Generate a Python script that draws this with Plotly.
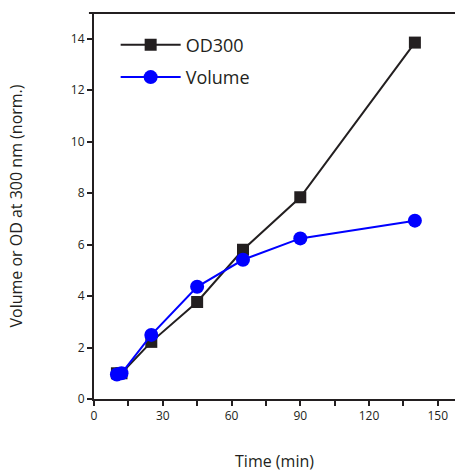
import plotly.graph_objects as go

time_od = [10, 12, 25, 45, 65, 90, 140]
od300 = [1.0, 1.0, 2.22, 3.77, 5.8, 7.84, 13.85]
time_vol = [10, 12, 25, 45, 65, 90, 140]
volume = [0.95, 1.0, 2.49, 4.36, 5.41, 6.24, 6.93]

x_ticks = [0, 30, 60, 90, 120, 150]
y_ticks = [0, 2, 4, 6, 8, 10, 12, 14]

axis_color = "#231f20"
font_family = "Open Sans, Noto Sans, sans-serif"

fig = go.Figure()
fig.add_trace(go.Scatter(
    x=time_od, y=od300, mode="lines+markers", name="OD300", legendgroup="od",
    line=dict(color="#231f20", width=2),
    marker=dict(symbol="square", size=12, color="#231f20"),
))
fig.add_trace(go.Scatter(
    x=time_vol, y=volume, mode="lines+markers", name="Volume", legendgroup="vol",
    line=dict(color="#0000ff", width=2),
    marker=dict(symbol="circle", size=14, color="#0000ff"),
))

fig.update_layout(
    width=455, height=472,
    margin=dict(l=94, r=0, t=13, b=73),
    plot_bgcolor="white", paper_bgcolor="white",
    font=dict(family=font_family, color=axis_color),
    showlegend=True,
    legend=dict(
        x=0.06, y=0.965, xanchor="left", yanchor="top",
        bgcolor="rgba(0,0,0,0)", font=dict(size=18, color=axis_color),
        itemwidth=60, tracegroupgap=6,
    ),
    xaxis=dict(
        range=[0, 157.5], tickvals=x_ticks, ticktext=[str(v) for v in x_ticks],
        showgrid=False, zeroline=False,
        showline=True, linecolor=axis_color, linewidth=2,
        ticks="outside", ticklen=5, tickwidth=2, tickcolor=axis_color,
        minor=dict(dtick=15, tick0=0, ticks="outside", ticklen=5, tickwidth=2, tickcolor=axis_color, showgrid=False),
        tickfont=dict(size=12, color=axis_color),
        title=dict(text="Time (min)", font=dict(size=16, color=axis_color), standoff=32),
    ),
    yaxis=dict(
        range=[0, 15], tickvals=y_ticks, ticktext=[str(v) for v in y_ticks],
        showgrid=False, zeroline=False,
        showline=True, linecolor=axis_color, linewidth=2,
        ticks="outside", ticklen=5, tickwidth=2, tickcolor=axis_color,
        tickfont=dict(size=12, color=axis_color),
        title=dict(text="Volume or OD at 300 nm (norm.)", font=dict(size=16, color=axis_color), standoff=44),
    ),
    shapes=[dict(
        type="line", xref="paper", yref="paper", x0=-0.014, x1=1.0, y0=1, y1=1,
        line=dict(color=axis_color, width=2),
    )],
)

fig.write_html(
    "out.html",
    config={"displayModeBar": False},
    post_script="document.body.style.margin='0';document.body.style.overflow='hidden';",
)
